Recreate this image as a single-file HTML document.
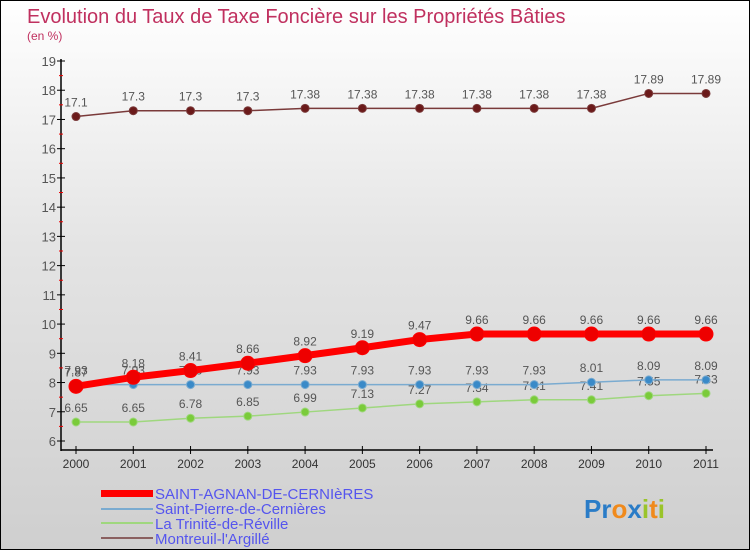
<!DOCTYPE html>
<html><head><meta charset="utf-8"><style>
body{margin:0}
#c{width:750px;height:550px;position:relative;box-sizing:border-box;border:1px solid #000;background:linear-gradient(#ffffff 0%,#e4e4e4 45%,#cfcfcf 100%);font-family:"Liberation Sans",sans-serif;overflow:hidden}
</style></head><body>
<div id="c">
<svg width="750" height="550" id="s">
<text x="26" y="22" font-size="20" fill="#c0305f">Evolution du Taux de Taxe Foncière sur les Propriétés Bâties</text>
<text x="26" y="39" font-size="12" fill="#c0305f">(en %)</text>
<g id="axes"></g><g id="series"></g>
<g>
<rect x="100" y="489" width="52" height="7" fill="#f00"/>
<line x1="100" y1="508" x2="152" y2="508" stroke="#7aabd0" stroke-width="2"/>
<line x1="100" y1="522" x2="152" y2="522" stroke="#9fd77e" stroke-width="2"/>
<line x1="100" y1="537" x2="152" y2="537" stroke="#8a6060" stroke-width="2"/>
<text x="154" y="498" font-size="15" fill="#5555ee">SAINT-AGNAN-DE-CERNIèRES</text>
<text x="154" y="513" font-size="15" fill="#5555ee">Saint-Pierre-de-Cernières</text>
<text x="154" y="528" font-size="15" fill="#5555ee">La Trinité-de-Réville</text>
<text x="154" y="543" font-size="15" fill="#5555ee">Montreuil-l'Argillé</text>
</g>
<text x="583" y="517" font-size="26" font-weight="bold"><tspan fill="#2a7cc7">Pr</tspan><tspan fill="#f08a1c">o</tspan><tspan fill="#2a7cc7">x</tspan><tspan fill="#9ac42a">i</tspan><tspan fill="#f08a1c">t</tspan><tspan fill="#9ac42a">i</tspan></text>
</svg>
</div>
<script>
const years=[2000,2001,2002,2003,2004,2005,2006,2007,2008,2009,2010,2011];
const yTicks=[6,7,8,9,10,11,12,13,14,15,16,17,18,19];
const saintAgnan=[7.87,8.18,8.41,8.66,8.92,9.19,9.47,9.66,9.66,9.66,9.66,9.66];
const saintPierre=[7.93,7.93,7.93,7.93,7.93,7.93,7.93,7.93,7.93,8.01,8.09,8.09];
const trinite=[6.65,6.65,6.78,6.85,6.99,7.13,7.27,7.34,7.41,7.41,7.55,7.63];
const montreuil=[17.1,17.3,17.3,17.3,17.38,17.38,17.38,17.38,17.38,17.38,17.89,17.89];
const NS="http://www.w3.org/2000/svg";
function X(i){return 75+i*(630/(years.length-1));}
function Y(v){return 440-(v-6)*(380/13);}
function mk(t,a,p){const e=document.createElementNS(NS,t);for(const k in a)e.setAttribute(k,a[k]);p.appendChild(e);return e;}
const ax=document.getElementById('axes');
const yl=mk('line',{x1:60,y1:58,x2:60,y2:450,stroke:'#000','stroke-width':1.5},ax);


const xl=mk('line',{x1:60,y1:449,x2:712,y2:449,stroke:'#000','stroke-width':1.5},ax);


yTicks.forEach(v=>{
 mk('line',{x1:56,y1:Y(v),x2:64,y2:Y(v),stroke:'#000'},ax);
 if(v<19)mk('line',{x1:58,y1:Y(v+0.5),x2:62,y2:Y(v+0.5),stroke:'#e00'},ax);
 const t=mk('text',{x:55,y:Y(v)+5,'font-size':13,fill:'#555','text-anchor':'end'},ax);t.textContent=v;
 
 
});
years.forEach((yr,i)=>{
 mk('line',{x1:X(i),y1:445,x2:X(i),y2:453,stroke:'#000'},ax);
 const t=mk('text',{x:X(i),y:467,'font-size':12,fill:'#333','text-anchor':'middle'},ax);t.textContent=yr;
 
 
});
const sg=document.getElementById('series');
function series(vals,color,w,r,name,pc){
 const g=mk('g',{},sg);
 
 
 mk('polyline',{points:vals.map((v,i)=>X(i)+','+Y(v)).join(' '),fill:'none',stroke:color,'stroke-width':w},g);
 vals.forEach((v,i)=>{
  const c=mk('circle',{cx:X(i),cy:Y(v),r:r,fill:pc,stroke:color,'stroke-width':1},g);
  
  
  const t=mk('text',{x:X(i),y:Y(v)-10,'font-size':12,fill:'#555','text-anchor':'middle'},g);t.textContent=v;
  
  
 });
}
series(montreuil,'#7a3a3a',1.5,4,'series-montreuil','#6b1a1a');
series(trinite,'#9fd77e',1.5,4,'series-trinite','#7acb3a');
series(saintPierre,'#7aabd0',1.5,4,'series-saint-pierre','#3a8ac8');
series(saintAgnan,'#f00',7,7,'series-saint-agnan','#e00');
</script>
</body></html>
